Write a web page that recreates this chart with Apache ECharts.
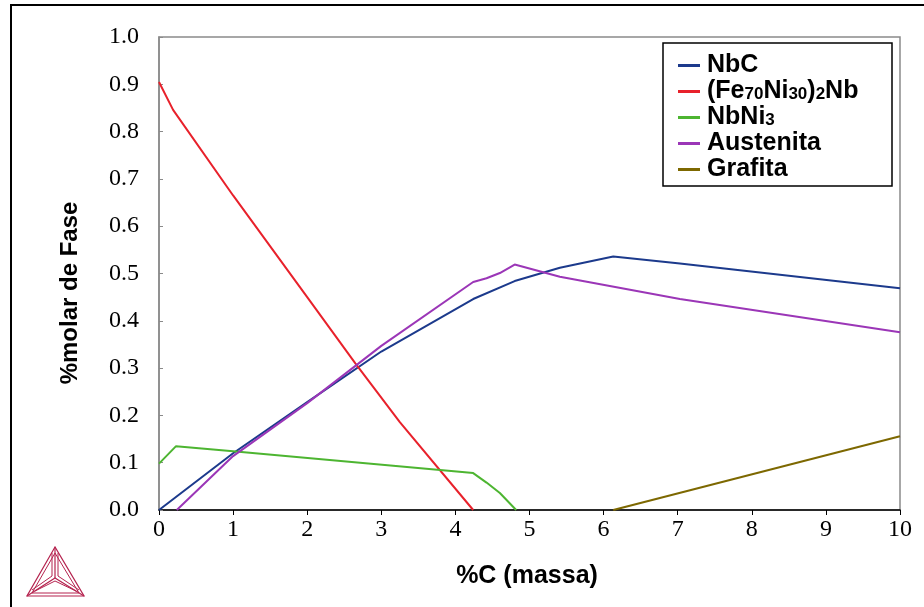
<!DOCTYPE html>
<html>
<head>
<meta charset="utf-8">
<script src="https://cdn.jsdelivr.net/npm/echarts@6/dist/echarts.min.js"></script>
<style>
  html, body { margin: 0; padding: 0; background: #fff; }
  #chart { width: 924px; height: 607px; }
</style>
</head>
<body>
<div id="chart"></div>
<script>
// %C (massa) vs %molar de Fase
const xTicks = [0, 1, 2, 3, 4, 5, 6, 7, 8, 9, 10]
const yTicks = [0, 0.1, 0.2, 0.3, 0.4, 0.5, 0.6, 0.7, 0.8, 0.9, 1.0]

const nbc = [[0, 0], [1, 0.12], [2, 0.228], [3, 0.335], [4.24, 0.446], [4.8, 0.484], [5.41, 0.512], [6.13, 0.536], [7.03, 0.521], [10, 0.469]]
const laves = [[0, 0.905], [0.19, 0.846], [1, 0.665], [2, 0.45], [2.65, 0.31], [3.25, 0.186], [4.24, 0]]
const nbni3 = [[0, 0.098], [0.23, 0.135], [1, 0.124], [4.24, 0.078], [4.42, 0.058], [4.6, 0.036], [4.82, 0]]
const austenita = [[0.24, 0], [1, 0.114], [2, 0.226], [3, 0.347], [4.24, 0.482], [4.42, 0.49], [4.6, 0.501], [4.8, 0.519], [5.41, 0.493], [7.03, 0.446], [10, 0.376]]
const grafita = [[6.13, 0], [10, 0.156]]

const seriesNames = ['NbC', '(Fe70Ni30)2Nb', 'NbNi3', 'Austenita', 'Grafita']
const seriesColors = ['#1C3A8C', '#E8212B', '#4DB531', '#9B36B7', '#7D6800']
const seriesData = [nbc, laves, nbni3, austenita, grafita]

const legendRich = {
  'NbC': '{n|NbC}',
  '(Fe70Ni30)2Nb': '{n|(Fe}{s|70}{n|Ni}{s|30}{n|)}{s|2}{n|Nb}',
  'NbNi3': '{n|NbNi}{s|3}',
  'Austenita': '{n|Austenita}',
  'Grafita': '{n|Grafita}'
}

const boldFont = 'Liberation Sans, Arial, sans-serif'
const serifFont = 'Liberation Serif, Times New Roman, serif'
const logoColor = '#B5234F'

const myChart = echarts.init(document.getElementById('chart'))

const option = {
  backgroundColor: '#fff',
  animation: false,
  grid: {
    left: 159,
    right: 24,
    top: 37,
    bottom: 97,
    show: true,
    borderColor: '#8a8a8a',
    borderWidth: 1.5
  },
  legend: {
    left: 673,
    top: 48,
    z: 10,
    orient: 'vertical',
    itemWidth: 22,
    itemHeight: 3,
    itemGap: 1,
    icon: 'rect',
    data: seriesNames,
    formatter: function (name) {
      return legendRich[name]
    },
    textStyle: {
      color: '#000',
      padding: [0, 0, 0, 2],
      rich: {
        n: { fontFamily: boldFont, fontWeight: 'bold', fontSize: 25, lineHeight: 23, color: '#000' },
        s: { fontFamily: boldFont, fontWeight: 'bold', fontSize: 17, lineHeight: 23, color: '#000', verticalAlign: 'bottom', padding: [5, 0, 0, 0] }
      }
    }
  },
  xAxis: {
    type: 'value',
    min: 0,
    max: 10,
    interval: 1,
    axisLine: { show: true, onZero: false, lineStyle: { color: '#000', width: 1.5 } },
    axisTick: { show: true, inside: false, length: 5, lineStyle: { color: '#000' } },
    axisLabel: {
      color: '#000',
      fontFamily: serifFont,
      fontSize: 24,
      margin: 8,
      formatter: function (v) { return String(v) }
    },
    splitLine: { show: false }
  },
  yAxis: {
    type: 'value',
    min: 0,
    max: 1,
    interval: 0.1,
    axisLine: { show: true, lineStyle: { color: '#8a8a8a', width: 1.5 } },
    axisTick: { show: true, inside: true, length: 4, lineStyle: { color: '#8a8a8a' } },
    axisLabel: {
      color: '#000',
      fontFamily: serifFont,
      fontSize: 24,
      margin: 20,
      formatter: function (v) { return v.toFixed(1) }
    },
    splitLine: { show: false }
  },
  graphic: [
    // outer frame
    {
      type: 'rect',
      shape: { x: 11, y: 5, width: 1000, height: 700 },
      style: { fill: 'none', stroke: '#000', lineWidth: 2 },
      z: 1
    },
    // legend box
    {
      type: 'rect',
      shape: { x: 663, y: 43, width: 229, height: 143 },
      style: { fill: '#fff', stroke: '#000', lineWidth: 1.5 },
      z: 2
    },
    // axis titles
    {
      type: 'text',
      x: 70,
      y: 293,
      rotation: Math.PI / 2,
      style: {
        text: '%molar de Fase',
        font: 'bold 24px ' + boldFont,
        fill: '#000',
        align: 'center',
        verticalAlign: 'middle'
      }
    },
    {
      type: 'text',
      x: 527,
      y: 576,
      style: {
        text: '%C (massa)',
        font: 'bold 25px ' + boldFont,
        fill: '#000',
        align: 'center',
        verticalAlign: 'middle'
      }
    },
    // Thermo-Calc logo
    {
      type: 'group',
      children: [
        { type: 'polygon', shape: { points: [[55, 547], [27, 596], [84, 596]] }, style: { fill: 'none', stroke: logoColor, lineWidth: 1.2 } },
        { type: 'polygon', shape: { points: [[55, 553], [32, 593], [79, 593]] }, style: { fill: 'none', stroke: logoColor, lineWidth: 1 } },
        { type: 'polyline', shape: { points: [[55, 547], [55, 578]] }, style: { stroke: logoColor, lineWidth: 1.2 } },
        { type: 'polyline', shape: { points: [[27, 596], [55, 578], [84, 596]] }, style: { fill: 'none', stroke: logoColor, lineWidth: 1.2 } },
        { type: 'polyline', shape: { points: [[58, 553], [58, 576], [79, 590]] }, style: { fill: 'none', stroke: logoColor, lineWidth: 1 } },
        { type: 'polyline', shape: { points: [[52, 553], [52, 576], [32, 590]] }, style: { fill: 'none', stroke: logoColor, lineWidth: 1 } },
        { type: 'polyline', shape: { points: [[35, 591], [55, 581], [76, 591]] }, style: { fill: 'none', stroke: logoColor, lineWidth: 1 } }
      ]
    }
  ],
  series: seriesNames.map(function (name, i) {
    return {
      name: name,
      type: 'line',
      data: seriesData[i],
      showSymbol: false,
      symbol: 'none',
      clip: true,
      z: 3,
      color: seriesColors[i],
      lineStyle: { color: seriesColors[i], width: 2 }
    }
  })
}

myChart.setOption(option)
</script>
</body>
</html>
